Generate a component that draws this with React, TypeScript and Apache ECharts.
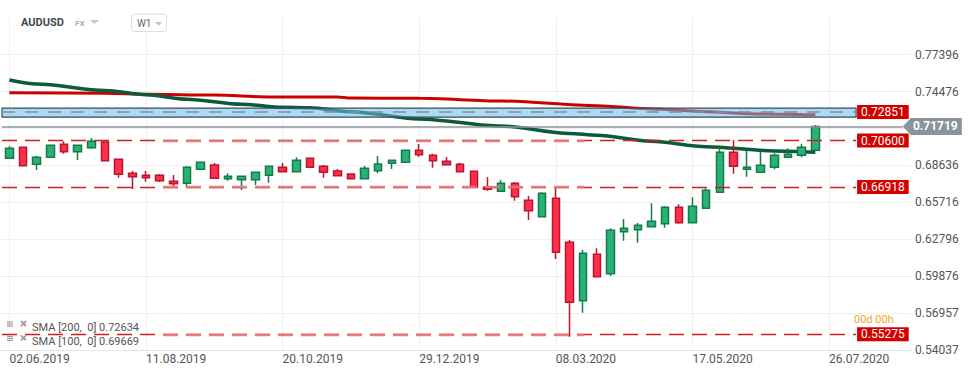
import React, { useEffect, useRef } from "react";
import * as echarts from "echarts";

// ---- data ----
const xTickIndex = [0, 10, 20, 30, 40, 50, 60];
const xTickLabels = ["02.06.2019", "11.08.2019", "20.10.2019", "29.12.2019", "08.03.2020", "17.05.2020", "26.07.2020"];
const yTickValues = [0.54037, 0.56957, 0.59876, 0.62796, 0.65716, 0.68636, 0.71556, 0.74476, 0.77396];
// 0.71556 sits behind the current-price tag, so its label is not shown
const yLabelValues = [0.54037, 0.56957, 0.59876, 0.62796, 0.65716, 0.68636, 0.74476, 0.77396];

// weekly AUDUSD candles from 02.06.2019: [open, close, low, high]
const weeklyOHLC: number[][] = [
  [0.69197, 0.69988, 0.6917, 0.7017],
  [0.70068, 0.68612, 0.6858, 0.701],
  [0.68723, 0.69276, 0.68272, 0.69403],
  [0.69276, 0.70226, 0.6925, 0.7026],
  [0.70305, 0.6972, 0.69561, 0.70542],
  [0.6972, 0.70226, 0.69063, 0.7025],
  [0.70036, 0.70542, 0.69957, 0.70803],
  [0.70487, 0.69007, 0.6898, 0.70542],
  [0.69118, 0.67932, 0.67662, 0.6914],
  [0.68011, 0.67742, 0.66768, 0.68193],
  [0.67852, 0.67662, 0.67346, 0.68193],
  [0.67852, 0.67425, 0.67322, 0.67955],
  [0.67378, 0.67188, 0.66871, 0.67876],
  [0.67219, 0.68485, 0.66871, 0.68564],
  [0.68327, 0.68881, 0.683, 0.6892],
  [0.68667, 0.67615, 0.6758, 0.68825],
  [0.67583, 0.67773, 0.67425, 0.68011],
  [0.67504, 0.67773, 0.66689, 0.678],
  [0.67504, 0.6809, 0.67085, 0.6811],
  [0.67852, 0.68564, 0.67267, 0.6858],
  [0.68485, 0.68137, 0.681, 0.68825],
  [0.68137, 0.69039, 0.6811, 0.69276],
  [0.69197, 0.68485, 0.6845, 0.6922],
  [0.68564, 0.6809, 0.67662, 0.68667],
  [0.68193, 0.67821, 0.678, 0.68351],
  [0.67955, 0.67583, 0.6756, 0.6798],
  [0.67583, 0.68406, 0.6756, 0.68588],
  [0.68216, 0.68746, 0.68011, 0.69379],
  [0.68802, 0.69039, 0.68351, 0.6906],
  [0.68881, 0.6983, 0.6886, 0.6986],
  [0.6983, 0.69482, 0.69324, 0.70329],
  [0.69435, 0.69007, 0.68454, 0.69561],
  [0.6896, 0.68691, 0.6867, 0.693],
  [0.68723, 0.68137, 0.6811, 0.68849],
  [0.68169, 0.66903, 0.6688, 0.6819],
  [0.66903, 0.66744, 0.66634, 0.67718],
  [0.66586, 0.67219, 0.6656, 0.6748],
  [0.67219, 0.66159, 0.65843, 0.67322],
  [0.65875, 0.65052, 0.64316, 0.66215],
  [0.64577, 0.66428, 0.6455, 0.66507],
  [0.66033, 0.61761, 0.6123, 0.66824],
  [0.62552, 0.57805, 0.55083, 0.62734],
  [0.57932, 0.61681, 0.56982, 0.61942],
  [0.61602, 0.5983, 0.5981, 0.62077],
  [0.60068, 0.63501, 0.59886, 0.63659],
  [0.6339, 0.63659, 0.62678, 0.64395],
  [0.63549, 0.63897, 0.6252, 0.64079],
  [0.63786, 0.64213, 0.6376, 0.65637],
  [0.64023, 0.65321, 0.63707, 0.65424],
  [0.65321, 0.64102, 0.64023, 0.65558],
  [0.64102, 0.654, 0.6408, 0.66112],
  [0.65242, 0.66665, 0.6522, 0.66824],
  [0.66507, 0.69672, 0.6648, 0.70068],
  [0.69672, 0.68564, 0.67979, 0.70621],
  [0.68327, 0.68485, 0.67742, 0.69799],
  [0.6809, 0.68644, 0.6806, 0.6972],
  [0.68485, 0.69435, 0.68327, 0.69593],
  [0.69276, 0.69514, 0.6925, 0.69988],
  [0.69435, 0.70068, 0.69276, 0.70352],
  [0.6983, 0.71719, 0.698, 0.71832],
];

// SMA readings: [week index, value]
const sma200Points = [
  [0, 0.7439], [7, 0.7434], [10, 0.7426], [15, 0.742], [19, 0.7405], [24, 0.7405],
  [25, 0.7397], [30, 0.7394], [36, 0.7373], [43, 0.7336], [47, 0.731], [51, 0.7288],
  [55, 0.727], [59, 0.72634],
];
const sma100Points = [
  [0, 0.7539], [2, 0.7508], [7, 0.7456], [10, 0.7423], [13, 0.7387], [17, 0.7347],
  [20, 0.7323], [22, 0.732], [25, 0.7288], [30, 0.7231], [36, 0.7175], [41, 0.7116],
  [43, 0.7102], [47, 0.7054], [51, 0.7012], [56, 0.6978], [59, 0.69669],
];

const redLevels = [0.706, 0.66918, 0.55275];
const zoneLevel = 0.72851;
const zoneRange = [0.7245, 0.7316];
const lastPrice = 0.71719;
const smaLegend = [
  { name: "SMA [200,  0]", value: 0.72634 },
  { name: "SMA [100,  0]", value: 0.69669 },
];

// ---- layout constants (axis space) ----
const X_MIN = -0.688;
const X_MAX = 66.0;
const LINE_START = -0.54;
const LINE_END = 61.98;
const PRICE_END = 65.4;
const PALE_FROM = 11.24;
const PALE_TO = 42.1;

const UP_FILL = "#27b373";
const UP_BORDER = "#167a4c";
const DOWN_FILL = "#ff2e4a";
const DOWN_BORDER = "#b8162e";

export default function App() {
  const ref = useRef<HTMLDivElement>(null);

  useEffect(() => {
    if (!ref.current) return;
    const chart = echarts.init(ref.current, null, { renderer: "svg" });

    const redLabel = (v: number) => ({
      show: true,
      position: "end",
      distance: 1,
      formatter: v.toFixed(5),
      color: "#fff",
      backgroundColor: "#d40000",
      padding: [1, 4, 1, 4],
      fontSize: 12,
      fontWeight: "normal",
      lineHeight: 12,
      fontFamily: "Roboto",
    });

    const markLines: any[] = [];
    markLines.push([
      {
        coord: [LINE_START, zoneLevel],
        lineStyle: { color: "#8d8aa0", type: [13, 10], width: 1.5 },
        label: redLabel(zoneLevel),
      },
      { coord: [LINE_END, zoneLevel] },
    ]);
    markLines.push([
      {
        coord: [LINE_START, lastPrice],
        lineStyle: { color: "#8d969b", type: "solid", width: 1.5 },
        label: { show: false },
      },
      { coord: [PRICE_END, lastPrice] },
    ]);
    redLevels.forEach((lv) => {
      markLines.push([
        {
          coord: [LINE_START, lv],
          lineStyle: { color: "#cf1f1f", type: [15, 8], width: 1.3 },
          label: redLabel(lv),
        },
        { coord: [LINE_END, lv] },
      ]);
      markLines.push([
        {
          coord: [PALE_FROM, lv],
          lineStyle: { color: "rgba(232,120,120,0.9)", type: [15, 8], width: 2.4 },
          label: { show: false },
        },
        { coord: [PALE_TO, lv] },
      ]);
    });

    const option: any = {
      animation: false,
      backgroundColor: "#ffffff",
      textStyle: { fontFamily: "Roboto" },
      grid: { left: 0, right: 63, top: 17, bottom: 25.1, containLabel: false, outerBoundsMode: "none" },
      xAxis: {
        type: "value",
        min: X_MIN,
        max: X_MAX,
        axisLine: { show: true, lineStyle: { color: "#e4e4e4" } },
        axisTick: { show: false, customValues: xTickIndex },
        axisLabel: {
          customValues: xTickIndex,
          formatter: (v: number) => {
            const k = xTickIndex.indexOf(Math.round(v));
            return k >= 0 ? xTickLabels[k] : "";
          },
          align: "left",
          color: "#555",
          fontSize: 12,
          margin: 3,
          fontFamily: "Roboto",
        },
        splitLine: { show: true, lineStyle: { color: "#efefef" } },
      },
      yAxis: {
        type: "value",
        position: "right",
        min: 0.54037,
        max: 0.80376,
        axisLine: { show: false },
        axisTick: { show: false, customValues: yTickValues },
        axisLabel: {
          customValues: yLabelValues,
          formatter: (v: number) => v.toFixed(5),
          color: "#555",
          fontSize: 12,
          margin: 4,
          align: "left",
          fontFamily: "Roboto",
        },
        splitLine: { show: true, lineStyle: { color: "#efefef" } },
      },
      series: [
        {
          name: "SMA200",
          type: "line",
          data: sma200Points,
          symbol: "none",
          smooth: 0.3,
          smoothMonotone: "x",
          lineStyle: { color: "#cc0000", width: 3 },
          z: 2,
        },
        {
          name: "SMA100",
          type: "line",
          data: sma100Points,
          symbol: "none",
          smooth: 0.3,
          smoothMonotone: "x",
          lineStyle: { color: "#0b5a3c", width: 3.5 },
          z: 2,
        },
        {
          name: "AUDUSD",
          type: "candlestick",
          data: weeklyOHLC.map((d, i) => [i, d[0], d[1], d[2], d[3]]),
          barWidth: 8,
          itemStyle: {
            color: UP_FILL,
            color0: DOWN_FILL,
            borderColor: UP_BORDER,
            borderColor0: DOWN_BORDER,
            borderWidth: 1.5,
          },
          z: 2,
          markArea: {
            silent: true,
            z: 3,
            itemStyle: {
              color: "rgba(100,190,235,0.55)",
              borderColor: "#3b4a55",
              borderWidth: 1.2,
            },
            label: { show: false },
            data: [[{ coord: [LINE_START, zoneRange[0]] }, { coord: [LINE_END, zoneRange[1]] }]],
          },
          markLine: {
            silent: true,
            symbol: ["none", "none"],
            data: markLines,
          },
          markPoint: {
            silent: true,
            data: [
              {
                coord: [PRICE_END, lastPrice],
                symbol: "path://M0,8.5L8,0L59,0L59,17L8,17Z",
                symbolSize: [59, 17],
                symbolOffset: [29.5, 0],
                itemStyle: { color: "#8a949b" },
                label: {
                  show: true,
                  position: "inside",
                  formatter: lastPrice.toFixed(5),
                  color: "#fff",
                  fontWeight: "bold",
                  fontSize: 12,
                  offset: [3, 0],
                  fontFamily: "Roboto",
                },
              },
            ],
          },
        },
      ],
      graphic: [
        {
          elements: [
            { type: "text", z: 10, left: 21, top: 17, style: { text: "AUDUSD", fontSize: 11, fontWeight: "bold", fill: "#3d4852", fontFamily: "Roboto" } },
            { type: "text", z: 10, left: 75, top: 19.5, style: { text: "FX", fontSize: 8, fontWeight: "bold", fill: "#a3b1bd", fontFamily: "Roboto" } },
            { type: "polygon", z: 10, shape: { points: [[90, 20], [99, 20], [94.5, 24]] }, style: { fill: "#c8c8c8" } },
            { type: "rect", z: 10, shape: { x: 131.5, y: 14, width: 35, height: 17.5, r: 3 }, style: { fill: "#fff", stroke: "#dedede", lineWidth: 1 } },
            { type: "text", z: 11, left: 137, top: 18, style: { text: "W1", fontSize: 10, fill: "#666", fontFamily: "Roboto" } },
            { type: "polygon", z: 11, shape: { points: [[155, 22], [162, 22], [158.5, 25.5]] }, style: { fill: "#c0c0c0" } },
            { type: "text", z: 0, left: 854, top: 314, style: { text: "00d 00h", fontSize: 11, fill: "#f5a623", fontFamily: "Roboto" } },
            ...smaLegend.flatMap((s, k) => {
              const y0 = 321.5 + k * 14.3;
              const ty = 328.3 + k * 14;
              return [
                { type: "rect", z: 10, shape: { x: 7, y: y0, width: 6, height: 1.2 }, style: { fill: "#9e9e9e" } },
                { type: "rect", z: 10, shape: { x: 7, y: y0 + 2, width: 6, height: 1.2 }, style: { fill: "#9e9e9e" } },
                { type: "rect", z: 10, shape: { x: 7, y: y0 + 4, width: 6, height: 1.2 }, style: { fill: "#9e9e9e" } },
                { type: "line", z: 10, shape: { x1: 21, y1: y0 - 0.5, x2: 26, y2: y0 + 4.5 }, style: { stroke: "#9e9e9e", lineWidth: 1.8 } },
                { type: "line", z: 10, shape: { x1: 21, y1: y0 + 4.5, x2: 26, y2: y0 - 0.5 }, style: { stroke: "#9e9e9e", lineWidth: 1.8 } },
                {
                  type: "text",
                  z: 10,
                  left: 32,
                  top: ty - 6.5,
                  style: { text: `${s.name} ${s.value.toFixed(5)}`, fontSize: 11, fill: "#555", fontFamily: "Roboto" },
                },
              ];
            }),
          ],
        },
      ],
    };

    chart.setOption(option);
    return () => chart.dispose();
  }, []);

  return (
    <div
      ref={ref}
      style={{ position: "fixed", left: 0, top: 0, width: 974, height: 375, background: "#fff" }}
    />
  );
}
